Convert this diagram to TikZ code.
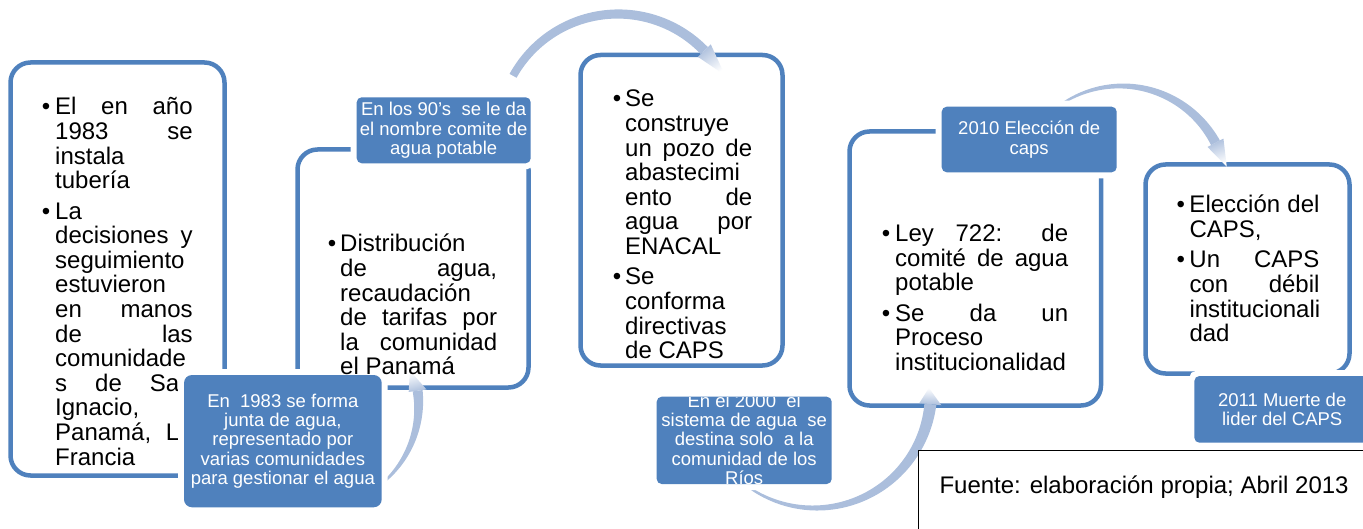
\documentclass[tikz,border=0pt]{standalone}
\usepackage{fontspec}
\setmainfont{Liberation Sans}
\newcommand{\bodyfont}{\fontsize{24}{24.6}\selectfont}
\newcommand{\lblfont}{\fontsize{18.5}{19.3}\selectfont}
\newcommand{\jline}[1]{\makebox[\linewidth][s]{#1}}
\newcommand{\bulx}[1]{\leavevmode\llap{\textbullet\hspace{#1pt}}}
\definecolor{acc}{HTML}{4F81BD}
\definecolor{arcc}{HTML}{ABBEDC}
% tapered arc band: cx cy r t0 t1 w0 w1
\newcommand{\arcband}[7]{%
  \fill[arcc] plot[domain=#4:#5, samples=60, variable=\t]
    ({#1+(#3+0.5*(#6+(#7-#6)*(\t-#4)/(#5-#4)))*cos(\t)}, {#2-(#3+0.5*(#6+(#7-#6)*(\t-#4)/(#5-#4)))*sin(\t)})
    -- plot[domain=#5:#4, samples=60, variable=\t]
    ({#1+(#3-0.5*(#6+(#7-#6)*(\t-#4)/(#5-#4)))*cos(\t)}, {#2-(#3-0.5*(#6+(#7-#6)*(\t-#4)/(#5-#4)))*sin(\t)})
    -- cycle;}
% arrow head: cx cy r tback ttip halfwidth tipr shadingangle
\newcommand{\archead}[8]{%
  \shade[bottom color=arcc, top color=white, shading angle=#8]
    ({#1+(#3+#6)*cos(#4)},{#2-(#3+#6)*sin(#4)})
    -- ({#1+#7*cos(#5)},{#2-#7*sin(#5)})
    -- ({#1+(#3-#6)*cos(#4)},{#2-(#3-#6)*sin(#4)}) -- cycle;}
\begin{document}
\begin{tikzpicture}[x=1pt,y=-1pt,
  stage/.style={draw=acc, line width=4.5pt, fill=white, rounded corners=20pt, inner sep=0pt},
  lbl/.style={fill=acc, rounded corners=5pt, inner sep=0pt, text=white, align=center, font=\lblfont, preaction={draw=white, line width=12pt}},
  body/.style={anchor=base west, inner sep=0pt, font=\bodyfont},
]
\useasboundingbox (0,0) rectangle (1363,529);

% stage boxes
\node[stage, minimum width=214pt, minimum height=413pt] (b1) at (117.5,269) {};
\node[stage, minimum width=231pt, minimum height=238pt] (b2) at (413,268.5) {};
\node[stage, minimum width=202pt, minimum height=310.5pt] (b3) at (681.5,210.25) {};
\node[stage, minimum width=251.5pt, minimum height=274pt] (b4) at (975.25,268.5) {};
\node[stage, minimum width=204pt, minimum height=209pt] (b5) at (1247.5,269) {};

% box texts
\node[body] (t1) at (55,115) {\parbox[t]{137.5pt}{\bodyfont
\bulx{5}\jline{El en año}\\
\jline{1983 se}\\
instala\\
tubería\\[5.8pt]
\bulx{5}La\\
\jline{decisiones y}\\
seguimiento\\
estuvieron\\
\jline{en manos}\\
\jline{de las}\\
comunidade\\
\jline{s de San}\\
Ignacio,\\
\jline{Panamá, La}\\
Francia}};

\node[body] (t3) at (625,107) {\parbox[t]{127pt}{\bodyfont
\bulx{4}Se\\
construye\\
\jline{un pozo de}\\
abastecimi\\
\jline{ento de}\\
\jline{agua por}\\
ENACAL\\[5.8pt]
\bulx{4}Se\\
conforma\\
directivas\\
de CAPS}};

\node[body] (t4) at (895,241.5) {\parbox[t]{173pt}{\bodyfont
\bulx{5}\jline{Ley 722: de}\\
\jline{comité de agua}\\
potable\\[5.8pt]
\bulx{5}\jline{Se da un}\\
Proceso\\
institucionalidad}};

\node[body] (t5) at (1189.3,213) {\parbox[t]{130pt}{\bodyfont
\bulx{4.6}\jline{Elección del}\\
CAPS,\\[5.8pt]
\bulx{4.6}\jline{Un CAPS}\\
\jline{con débil}\\
institucionali\\
dad}};

% curved arrows
\arcband{316}{405}{102.6}{-50}{8}{2}{10}
\archead{316}{405}{102.6}{8}{20}{9}{100}{14}

\arcband{618}{134}{120}{44}{151}{10}{8}
\archead{618}{134}{120}{44}{29}{9}{122}{-143.5}

\arcband{815}{392}{116}{-126}{-6}{2}{12}
\archead{815}{392}{116}{-6}{2}{11}{114}{-2}

\arcband{1121}{193}{107}{28}{124.5}{10}{2}
\archead{1121}{193}{107}{28}{14}{9}{109}{-159}

% labels
\node[lbl, minimum width=174pt, minimum height=66pt] (l90) at (443.7,130.3)
  {En los 90's\ \ se le da\\el nombre comite de\\agua potable};
\node[lbl, rounded corners=8pt, minimum width=197.7pt, minimum height=132.3pt] (l1983) at (282.85,441.15)
  {En\ \ 1983 se forma\\junta de agua,\\representado por\\varias comunidades\\para gestionar el agua};
\node[lbl, minimum width=175pt, minimum height=87.3pt] (l2000) at (744.2,440.35) {};
\begin{scope}
  \clip[rounded corners=5pt] (l2000.south west) rectangle (l2000.north east);
  \node[text=white, align=center, font=\lblfont, inner sep=0pt] (l2000t) at ([yshift=1pt]l2000.center)
    {En el 2000\ \ el\\sistema de agua\ \ se\\destina solo\ \ a la\\comunidad de los\\Ríos};
\end{scope}
\node[lbl, minimum width=175pt, minimum height=65.6pt] (l2010) at (1029.2,139.5)
  {2010 Elección de\\caps};
\node[lbl, minimum width=175.7pt, minimum height=66.7pt] (l2011) at (1282.2,409.35)
  {2011 Muerte de\\lider del CAPS};

% text of the second box, above the label outlines
\node[body] (t2) at (340,252) {\parbox[t]{157pt}{\bodyfont
\bulx{4}Distribución\\
\jline{de agua,}\\
recaudación\\
\jline{de tarifas por}\\
\jline{la comunidad}\\
el Panamá}};

% source box
\node[draw=black, line width=1pt, fill=white, anchor=north west, minimum width=470pt, minimum height=100pt, inner sep=0pt] (src) at (918.3,450) {};
\node[body] (srctxt) at (939.3,493.3) {Fuente: elaboración propia; Abril 2013};
\end{tikzpicture}
\end{document}
